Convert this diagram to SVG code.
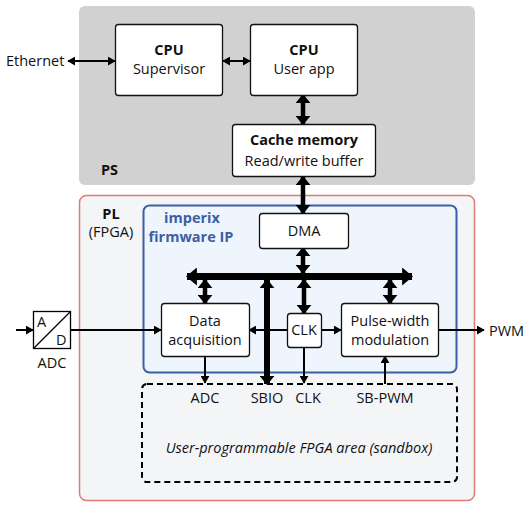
<svg xmlns="http://www.w3.org/2000/svg" width="528" height="506" viewBox="0 0 528 506">
<defs>
<style>
text{font-family:"Open Sans","Noto Sans","Liberation Sans",sans-serif;fill:#111;font-size:14.5px;}
.t{text-anchor:middle;}
.b{font-weight:bold;}
.box{fill:#fff;stroke:#111;stroke-width:1.3;}
.thin{stroke:#000;stroke-width:2;fill:none;}
.dbl{stroke:#000;stroke-width:4.5;fill:none;}
</style>
<marker id="sm" markerUnits="userSpaceOnUse" viewBox="0 0 10 10" preserveAspectRatio="none" refX="9" refY="5" markerWidth="8" markerHeight="9" orient="auto-start-reverse"><path d="M0,0 L10,5 L0,10 z" fill="#000"/></marker>
<marker id="big" markerUnits="userSpaceOnUse" viewBox="0 0 10 10" preserveAspectRatio="none" refX="9" refY="5" markerWidth="9" markerHeight="15" orient="auto-start-reverse"><path d="M0,0 L10,5 L0,10 z" fill="#000"/></marker>
<marker id="bus" markerUnits="userSpaceOnUse" viewBox="0 0 10 10" preserveAspectRatio="none" refX="9" refY="5" markerWidth="11" markerHeight="18" orient="auto-start-reverse"><path d="M0,0 L10,5 L0,10 z" fill="#000"/></marker>
</defs>

<g id="ps">
<rect x="79" y="6" width="396" height="179" rx="6" fill="#d1d1d1"/>
<text x="101" y="175" class="b" fill="#222">PS</text>
</g>
<g id="pl">
<rect x="79.5" y="195.5" width="395" height="305" rx="7" fill="#f4f5f7" stroke="#e07b75" stroke-width="1.5"/>
<text x="111" y="219" class="t b">PL</text>
<text x="111" y="237" class="t">(FPGA)</text>
</g>
<g id="imperix">
<rect x="143.5" y="205.5" width="313" height="167" rx="6" fill="#eef5fd" stroke="#3d5fa3" stroke-width="2"/>
<text x="192" y="223" class="t b" style="fill:#3d5fa3">imperix</text>
<text x="191" y="242" class="t b" style="fill:#3d5fa3">firmware IP</text>
</g>
<g id="sandbox">
<rect x="142" y="384" width="315" height="98" rx="5" fill="none" stroke="#000" stroke-width="2" stroke-dasharray="6,4"/>
<text x="299" y="453" class="t" font-style="italic">User-programmable FPGA area (sandbox)</text>
</g>

<g id="connectors">
<line x1="68" y1="61" x2="115" y2="61" class="thin" marker-start="url(#sm)" marker-end="url(#sm)"/>
<line x1="223" y1="61" x2="250" y2="61" class="thin" marker-start="url(#sm)" marker-end="url(#sm)"/>
<line x1="303" y1="95" x2="303" y2="124" class="dbl" marker-start="url(#big)" marker-end="url(#big)"/>
<line x1="303" y1="177" x2="303" y2="213" class="dbl" marker-start="url(#big)" marker-end="url(#big)"/>
<line x1="303" y1="248" x2="303" y2="273" class="dbl" marker-start="url(#big)" marker-end="url(#big)"/>
<line x1="187" y1="276.5" x2="412" y2="276.5" stroke="#000" stroke-width="7" marker-start="url(#bus)" marker-end="url(#bus)"/>
<line x1="205" y1="280" x2="205" y2="303" class="dbl" marker-start="url(#big)" marker-end="url(#big)"/>
<line x1="304" y1="280" x2="304" y2="313" class="dbl" marker-start="url(#big)" marker-end="url(#big)"/>
<line x1="390" y1="280" x2="390" y2="303" class="dbl" marker-start="url(#big)" marker-end="url(#big)"/>
<line x1="16" y1="330" x2="33" y2="330" class="thin" marker-end="url(#sm)"/>
<line x1="70" y1="330" x2="161" y2="330" class="thin" marker-end="url(#sm)"/>
<line x1="287" y1="330" x2="249" y2="330" class="thin" marker-end="url(#sm)"/>
<line x1="321" y1="330" x2="341" y2="330" class="thin" marker-end="url(#sm)"/>
<line x1="438" y1="330" x2="484" y2="330" class="thin" marker-end="url(#sm)"/>
<line x1="267" y1="280" x2="267" y2="384" stroke="#000" stroke-width="6" marker-start="url(#big)" marker-end="url(#big)"/>
<line x1="205" y1="356" x2="205" y2="383" class="thin" marker-end="url(#sm)"/>
<line x1="304" y1="347" x2="304" y2="383" class="thin" marker-end="url(#sm)"/>
<line x1="385" y1="384" x2="385" y2="356" class="thin" marker-end="url(#sm)"/>
</g>

<g id="cpu-supervisor">
<rect x="115.5" y="24.5" width="107" height="71" rx="3" class="box"/>
<text x="169" y="55" class="t b">CPU</text>
<text x="169" y="74" class="t">Supervisor</text>
</g>
<g id="cpu-user">
<rect x="250.5" y="24.5" width="107" height="71" rx="3" class="box"/>
<text x="304" y="55" class="t b">CPU</text>
<text x="304" y="74" class="t">User app</text>
</g>
<g id="cache">
<rect x="232.5" y="124.5" width="143" height="52" rx="3" class="box"/>
<text x="304" y="145" class="t b">Cache memory</text>
<text x="304" y="166" class="t">Read/write buffer</text>
</g>
<g id="dma">
<rect x="259.5" y="213.5" width="89" height="35" rx="3" class="box"/>
<text x="304" y="236" class="t">DMA</text>
</g>
<g id="data-acq">
<rect x="161.5" y="303.5" width="88" height="53" rx="3" class="box"/>
<text x="205" y="326" class="t">Data</text>
<text x="205" y="345" class="t">acquisition</text>
</g>
<g id="clk">
<rect x="287.5" y="313.5" width="34" height="34" rx="3" class="box"/>
<text x="304" y="335" class="t">CLK</text>
</g>
<g id="pwm-mod">
<rect x="341.5" y="303.5" width="97" height="53" rx="3" class="box"/>
<text x="390" y="326" class="t">Pulse-width</text>
<text x="390" y="345" class="t">modulation</text>
</g>
<g id="adc">
<rect x="33.5" y="311.5" width="37" height="37" fill="#fff" stroke="#000" stroke-width="1.3"/>
<line x1="34" y1="348" x2="70" y2="312" stroke="#000" stroke-width="1.2"/>
<text x="37" y="327">A</text>
<text x="56" y="345">D</text>
<text x="52" y="368" class="t">ADC</text>
</g>
<g id="labels">
<text x="6" y="66">Ethernet</text>
<text x="489" y="336">PWM</text>
<text x="205" y="403" class="t">ADC</text>
<text x="267" y="403" class="t">SBIO</text>
<text x="308" y="403" class="t">CLK</text>
<text x="385" y="403" class="t">SB-PWM</text>
</g>
</svg>
